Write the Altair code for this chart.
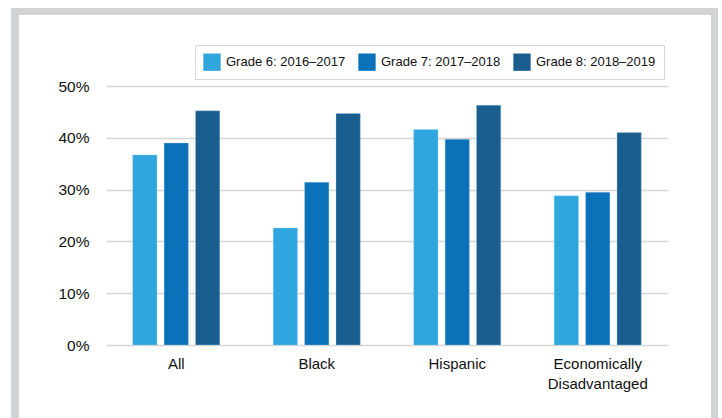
import altair as alt
import pandas as pd

groups = ["All", "Black", "Hispanic", "Economically Disadvantaged"]
series = ["Grade 6: 2016–2017", "Grade 7: 2017–2018", "Grade 8: 2018–2019"]
grade6 = [0.367, 0.226, 0.416, 0.288]
grade7 = [0.390, 0.314, 0.397, 0.295]
grade8 = [0.452, 0.447, 0.463, 0.410]
colors = ["#2fa6de", "#0b72b9", "#1a5e8f"]

rows = []
for i, g in enumerate(groups):
    for s, vals in zip(series, [grade6, grade7, grade8]):
        rows.append({"group": g, "series": s, "value": vals[i]})
df = pd.DataFrame(rows)

FONT = "Liberation Sans, Arial, Helvetica, sans-serif"
W, H = 562, 259
PL, PT = 106, 86

bars = alt.Chart(df).mark_bar(stroke="#9fd0ee", strokeWidth=0.6, strokeOpacity=0.6).encode(
    x=alt.X("group:N", sort=groups, title=None,
            scale=alt.Scale(paddingInner=0.38, paddingOuter=0.19),
            axis=alt.Axis(labelAngle=0, labelPadding=11, ticks=False, domain=False,
                          labelFont=FONT, labelFontSize=15, labelColor="#111111",
                          labelLineHeight=20,
                          labelExpr="datum.label == 'Economically Disadvantaged' ? ['Economically', 'Disadvantaged'] : datum.label")),
    xOffset=alt.XOffset("series:N", sort=series,
                        scale=alt.Scale(paddingInner=0.226, paddingOuter=0)),
    y=alt.Y("value:Q", title=None,
            scale=alt.Scale(domain=[0, 0.5], nice=False),
            axis=alt.Axis(values=[0, 0.1, 0.2, 0.3, 0.4, 0.5], format=".0%",
                          ticks=False, domain=False, labelPadding=17,
                          labelFont=FONT, labelFontSize=15.5, labelColor="#111111",
                          grid=True, gridColor="#d6d6d6", gridWidth=1.5)),
    color=alt.Color("series:N", sort=series,
                    scale=alt.Scale(domain=series, range=colors),
                    legend=alt.Legend(title=None, orient="none", direction="horizontal",
                                      legendX=89, legendY=-41, columns=3,
                                      symbolType="square", symbolSize=300,
                                      symbolStrokeWidth=0, symbolOpacity=1,
                                      labelFont=FONT, labelFontSize=13, labelColor="#111111",
                                      labelOffset=5, columnPadding=12,
                                      padding=8, strokeColor="#d6d6d6",
                                      fillColor="white")),
)

frame_color = "#d1d3d4"
top_band = alt.Chart(pd.DataFrame({"k": [0]})).mark_rect(color=frame_color, clip=False).encode(
    x=alt.value(11 - PL), x2=alt.value(718 - PL),
    y=alt.value(8 - PT), y2=alt.value(15 - PT))
left_band = alt.Chart(pd.DataFrame({"k": [0]})).mark_rect(color=frame_color, clip=False).encode(
    x=alt.value(11 - PL), x2=alt.value(19 - PL),
    y=alt.value(8 - PT), y2=alt.value(420 - PT))
right_band = alt.Chart(pd.DataFrame({"k": [0]})).mark_rect(color=frame_color, clip=False).encode(
    x=alt.value(711 - PL), x2=alt.value(718 - PL),
    y=alt.value(8 - PT), y2=alt.value(420 - PT))

chart = alt.layer(top_band, left_band, right_band, bars).properties(
    width=W, height=H,
    autosize=alt.AutoSizeParams(type="none"),
    padding={"left": PL, "top": PT, "right": 722 - PL - W, "bottom": 418 - PT - H},
    background="white",
).configure_view(stroke=None)

chart.save("out.html", embed_options={"renderer": "svg", "actions": False})
